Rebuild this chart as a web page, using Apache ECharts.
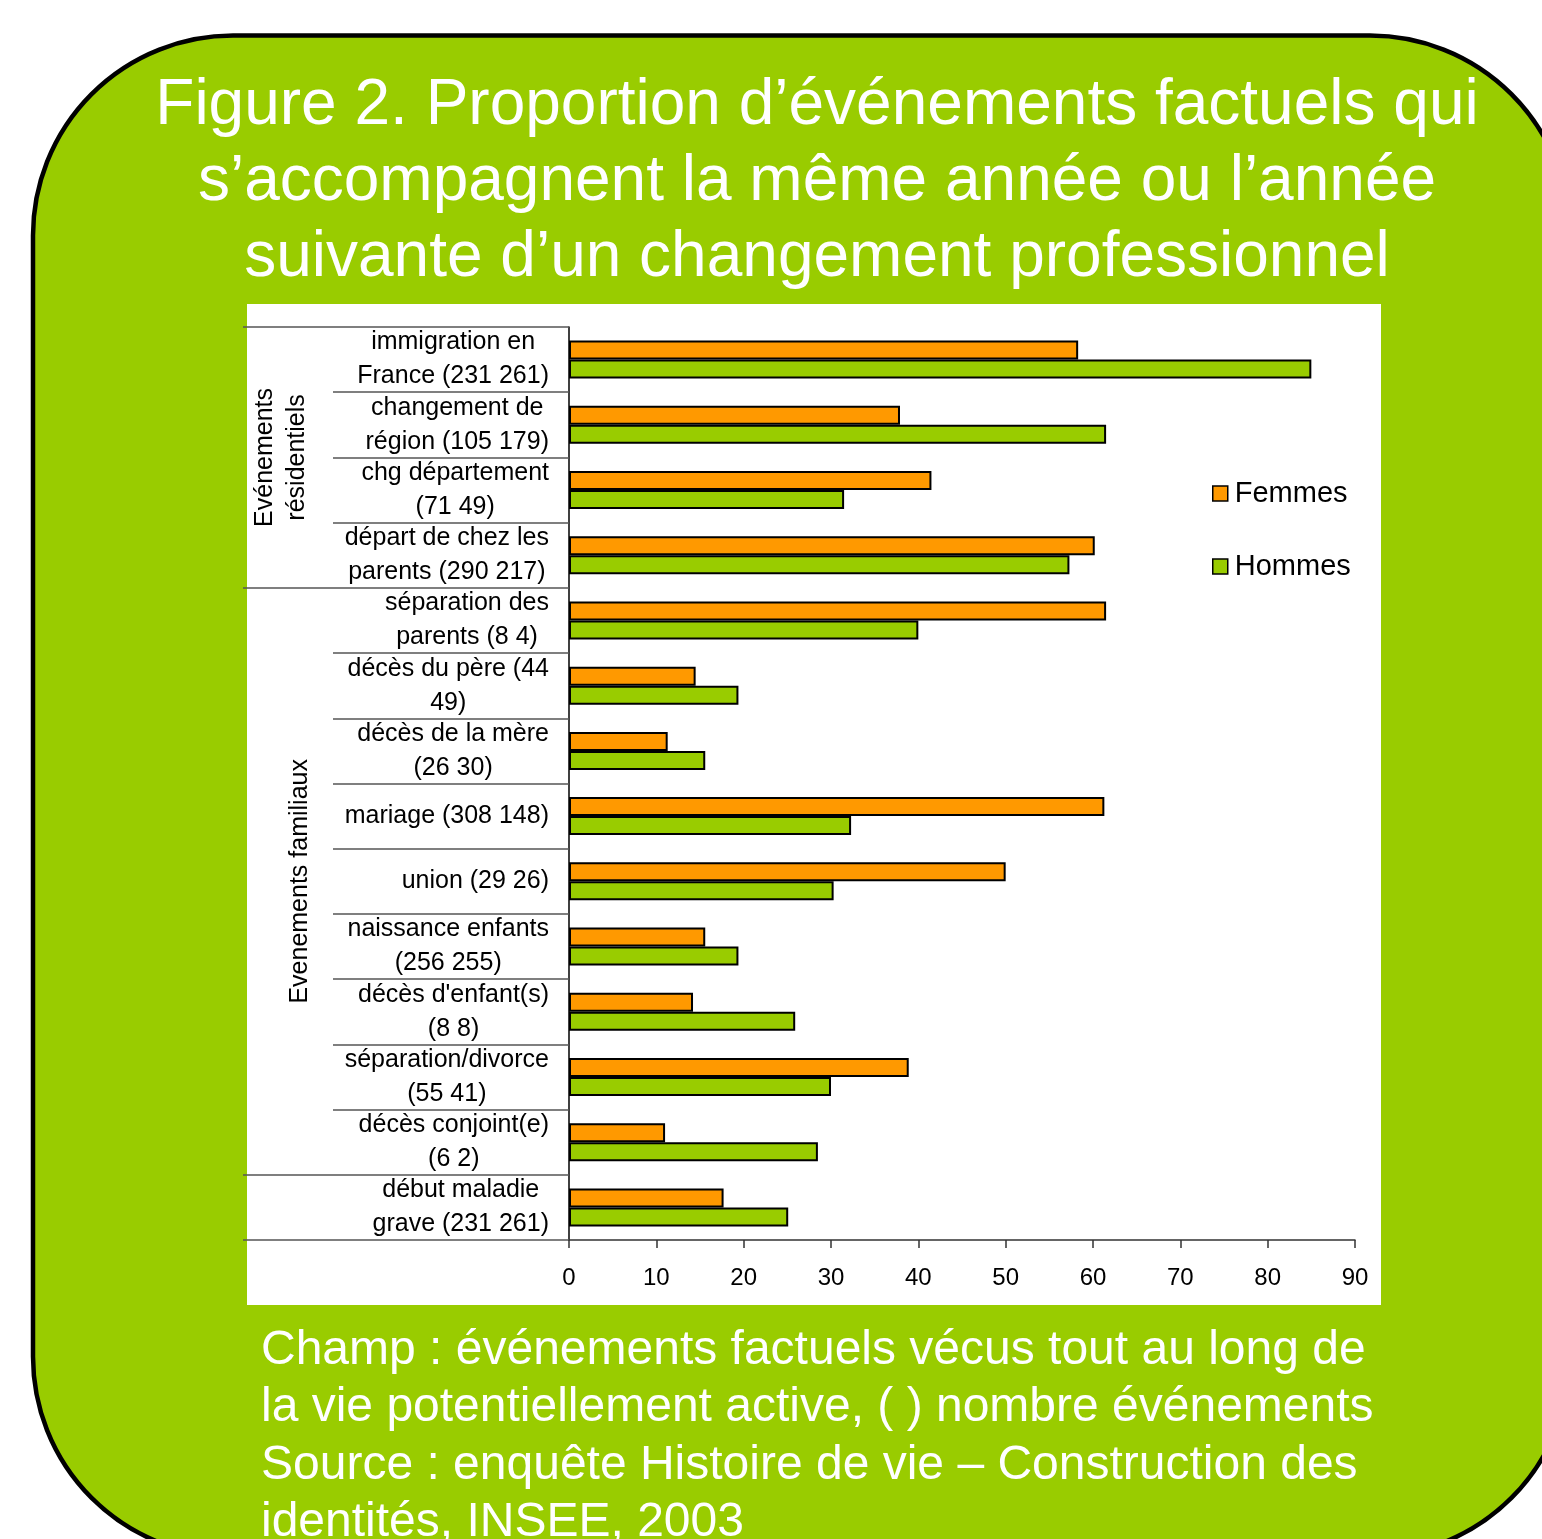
<!DOCTYPE html>
<html>
<head>
<meta charset="utf-8">
<script src="https://cdn.jsdelivr.net/npm/echarts@6/dist/echarts.min.js"></script>
<style>
html, body { margin: 0; padding: 0; background: #fff; }
#chart { width: 1542px; height: 1539px; }
</style>
</head>
<body>
<div id="chart"></div>
<script>
const categories = [
  'immigration en\nFrance (231 261)',
  'changement de\nrégion (105 179)',
  'chg département\n(71 49)',
  'départ de chez les\nparents (290 217)',
  'séparation des\nparents (8 4)',
  'décès du père (44\n49)',
  'décès de la mère\n(26 30)',
  'mariage (308 148)',
  'union (29 26)',
  'naissance enfants\n(256 255)',
  "décès d'enfant(s)\n(8 8)",
  'séparation/divorce\n(55 41)',
  'décès conjoint(e)\n(6 2)',
  'début maladie\ngrave (231 261)'
]
const femmes = [58.3, 37.9, 41.5, 60.2, 61.5, 14.5, 11.3, 61.3, 50.0, 15.6, 14.2, 38.9, 11.0, 17.7]
const hommes = [85.0, 61.5, 31.5, 57.3, 40.0, 19.4, 15.6, 32.3, 30.3, 19.4, 25.9, 30.0, 28.5, 25.1]
const groupNames = ['Evénements\nrésidentiels', 'Evenements familiaux', '']
const groupSizes = [4, 9, 1]
const xMin = 0
const xMax = 90
const xStep = 10

const titleLines = [
  'Figure 2. Proportion d’événements factuels qui',
  's’accompagnent la même année ou l’année',
  'suivante d’un changement professionnel'
]
const noteLines = [
  'Champ : événements factuels vécus tout au long de',
  'la vie potentiellement active, ( ) nombre événements',
  'Source : enquête Histoire de vie – Construction des',
  'identités, INSEE, 2003'
]

const FONT = '"Liberation Sans", Arial, sans-serif'
const ORANGE = '#ff9900'
const GREEN = '#99cc00'

// indices where a group starts (for the long separators)
const groupStarts = []
let acc = 0
groupSizes.forEach(n => { groupStarts.push(acc); acc += n })

const chart = echarts.init(document.getElementById('chart'))

const option = {
  animation: false,
  backgroundColor: '#fff',
  grid: { left: 569, right: 187, top: 327, bottom: 299, containLabel: false },
  legend: {
    orient: 'vertical',
    left: 1207,
    top: 474,
    icon: 'rect',
    itemWidth: 15,
    itemHeight: 15,
    itemGap: 44,
    data: ['Femmes', 'Hommes'],
    itemStyle: { borderColor: '#000', borderWidth: 1.5 },
    textStyle: { fontFamily: FONT, fontSize: 29, color: '#000', padding: [0, 0, 0, 2] }
  },
  xAxis: {
    type: 'value',
    min: xMin,
    max: xMax,
    interval: xStep,
    splitLine: { show: false },
    axisLine: { show: true, lineStyle: { color: '#333', width: 1.5 } },
    axisTick: { show: true, length: 8, lineStyle: { color: '#333', width: 1.5 } },
    axisLabel: { fontFamily: FONT, fontSize: 24, color: '#000', margin: 26 }
  },
  yAxis: [
    {
      type: 'category',
      data: categories,
      inverse: true,
      position: 'left',
      axisLine: { show: true, lineStyle: { color: '#000', width: 1.5 } },
      axisTick: { show: true, length: 236, lineStyle: { color: '#555', width: 1.5 } },
      axisLabel: {
        interval: 0,
        showMinLabel: true,
        showMaxLabel: true,
        hideOverlap: false,
        margin: 20,
        fontFamily: FONT,
        fontSize: 25,
        color: '#000',
        lineHeight: 34,
        formatter: v => v.split('\n').map(s => '{c|' + s + '}').join('\n'),
        rich: {
          c: { align: 'center', fontFamily: FONT, fontSize: 25, lineHeight: 34, color: '#000' }
        }
      }
    },
    {
      type: 'category',
      data: categories,
      inverse: true,
      position: 'left',
      axisLine: { show: false },
      axisLabel: { show: false },
      axisTick: {
        show: true,
        length: 326,
        interval: idx => groupStarts.includes(idx),
        lineStyle: { color: '#555', width: 1.5 }
      }
    }
  ],
  series: [
    {
      name: 'Femmes',
      type: 'bar',
      data: femmes,
      barWidth: 19,
      barGap: '0%',
      itemStyle: { color: ORANGE, borderColor: '#000', borderWidth: 2 }
    },
    {
      name: 'Hommes',
      type: 'bar',
      data: hommes,
      barWidth: 19,
      barGap: '0%',
      itemStyle: { color: GREEN, borderColor: '#000', borderWidth: 2 }
    }
  ]
}
chart.setOption(option)

// background frame, title, note, group labels
const graphics = [
  {
    type: 'rect', z: -20, silent: true,
    shape: { x: 33, y: 35.5, width: 1537, height: 1521, r: 200 },
    style: { fill: GREEN, stroke: '#000', lineWidth: 4.5 }
  },
  {
    type: 'rect', z: -19, silent: true,
    shape: { x: 247, y: 304, width: 1134, height: 1001 },
    style: { fill: '#fff' }
  },
  {
    type: 'text', z: 10, x: 817, y: 68,
    style: {
      text: titleLines.join('\n'), fill: '#fff', font: '64px ' + FONT,
      textAlign: 'center', textVerticalAlign: 'top', lineHeight: 76
    }
  },
  {
    type: 'text', z: 10, x: 261, y: 1322,
    style: {
      text: noteLines.join('\n'), fill: '#fff', font: '48px ' + FONT,
      textAlign: 'left', textVerticalAlign: 'top', lineHeight: 57.5
    }
  }
]
const groupX = [281, 300, 288]
let s = 0
groupSizes.forEach((n, i) => {
  const y0 = chart.convertToPixel({ yAxisIndex: 0 }, categories[s])
  const y1 = chart.convertToPixel({ yAxisIndex: 0 }, categories[s + n - 1])
  s += n
  if (!groupNames[i]) return
  graphics.push({
    type: 'text', z: 10, x: groupX[i], y: (y0 + y1) / 2, rotation: Math.PI / 2,
    style: {
      text: groupNames[i], fill: '#000', font: '25px ' + FONT,
      textAlign: 'center', textVerticalAlign: 'middle', lineHeight: 32
    }
  })
})
chart.setOption({ graphic: graphics })
</script>
</body>
</html>
